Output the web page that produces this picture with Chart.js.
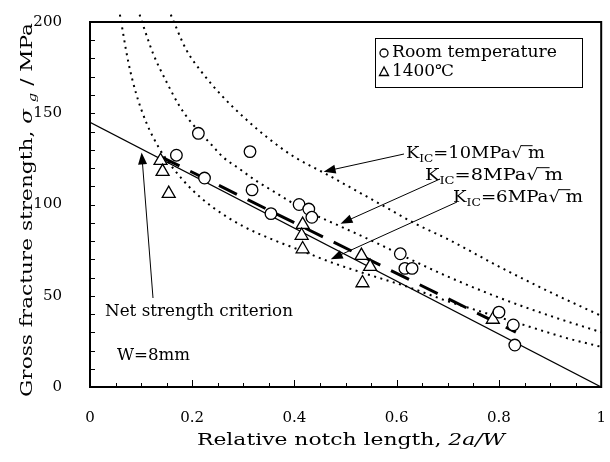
<!DOCTYPE html>
<html>
<head>
<meta charset="utf-8">
<script src="https://cdn.jsdelivr.net/npm/chart.js@4.4.0/dist/chart.umd.min.js"></script>
<style>
  html, body { margin: 0; padding: 0; background: #fff; }
</style>
</head>
<body>
<canvas id="myChart" width="610" height="462"></canvas>
<script>
// x = relative notch length 2a/W, y = gross fracture strength (MPa)
const roomX = [0.169, 0.212, 0.224, 0.313, 0.317, 0.354, 0.409, 0.428, 0.434, 0.607, 0.616, 0.630, 0.800, 0.828, 0.831];
const roomY = [127, 139, 114.5, 129, 108, 95, 100, 97.5, 93, 73, 65, 65, 41, 34, 23];

const hotX = [0.138, 0.142, 0.154, 0.416, 0.414, 0.416, 0.531, 0.548, 0.533, 0.788];
const hotY = [124, 118, 106, 89, 83, 75.6, 72, 66, 57, 37];

// net strength criterion
const netX = [0, 1];
const netY = [145, 0];

// 1400C trend (thick dashed)
const fitX = [0.14, 0.833];
const fitY = [126, 30];

// K_IC curves
const k10X = [0.158, 0.188, 0.22, 0.26, 0.30, 0.35, 0.40, 0.46, 0.55, 0.64, 0.70, 0.80, 0.90, 1.00];
const k10Y = [204, 185, 172, 159, 148, 136, 126, 117, 103, 89, 81, 66, 52, 39];
const k8X = [0.097, 0.123, 0.15, 0.175, 0.195, 0.24, 0.26, 0.29, 0.325, 0.36, 0.42, 0.49, 0.56, 0.63, 0.70, 0.80, 0.90, 1.00];
const k8Y = [204, 183, 167, 154, 146, 132, 126, 120, 113, 107, 97, 88, 79, 69.5, 60.5, 49, 39, 30];
const k6X = [0.0585, 0.075, 0.09, 0.11, 0.135, 0.165, 0.20, 0.24, 0.30, 0.36, 0.42, 0.47, 0.54, 0.62, 0.70, 0.78, 0.86, 0.93, 1.00];
const k6Y = [204, 178, 161, 145, 131, 119, 108, 98.5, 88, 80.5, 74, 68.5, 62, 55, 47, 40, 33, 27, 22];

const xTicks = [0, 0.2, 0.4, 0.6, 0.8, 1];
const yTicks = [0, 50, 100, 150, 200];

const SERIF = '"DejaVu Serif", serif';

function toPoints(xs, ys) {
  return xs.map((x, i) => ({ x: x, y: ys[i] }));
}

function font(size, italic) {
  return (italic ? 'italic ' : '') + size + 'px ' + SERIF;
}

// draw a line of mixed text runs, stretched horizontally to a given width
function drawRich(ctx, runs, x, y, size, width, align) {
  ctx.save();
  let natural = 0;
  runs.forEach(r => {
    ctx.font = font(r.sub ? size * 0.68 : size, r.it);
    r.w = ctx.measureText(r.t).width;
    natural += r.w;
  });
  const sx = width ? width / natural : 1;
  const start = align === 'center' ? x - natural * sx / 2 : x;
  ctx.translate(start, y);
  ctx.scale(sx, 1);
  ctx.textBaseline = 'middle';
  ctx.textAlign = 'left';
  ctx.fillStyle = '#000';
  ctx.strokeStyle = '#000';
  let cx = 0;
  runs.forEach(r => {
    ctx.font = font(r.sub ? size * 0.68 : size, r.it);
    ctx.fillText(r.t, cx, r.sub ? size * 0.3 : 0);
    if (r.bar) {
      ctx.lineWidth = 1;
      ctx.beginPath();
      ctx.moveTo(cx - 1, -size * 0.52);
      ctx.lineTo(cx + r.w * 0.45, -size * 0.52);
      ctx.stroke();
    }
    cx += r.w;
  });
  ctx.restore();
}

function drawArrow(ctx, x1, y1, x2, y2) {
  const ang = Math.atan2(y2 - y1, x2 - x1);
  const len = 12, half = 4.5;
  ctx.save();
  ctx.strokeStyle = '#000';
  ctx.fillStyle = '#000';
  ctx.lineWidth = 1;
  ctx.beginPath();
  ctx.moveTo(x1, y1);
  ctx.lineTo(x2 - Math.cos(ang) * len * 0.8, y2 - Math.sin(ang) * len * 0.8);
  ctx.stroke();
  ctx.beginPath();
  ctx.moveTo(x2, y2);
  ctx.lineTo(x2 - Math.cos(ang) * len - Math.sin(ang) * half, y2 - Math.sin(ang) * len + Math.cos(ang) * half);
  ctx.lineTo(x2 - Math.cos(ang) * len + Math.sin(ang) * half, y2 - Math.sin(ang) * len - Math.cos(ang) * half);
  ctx.closePath();
  ctx.fill();
  ctx.restore();
}

function kLabel(n) {
  return [
    { t: 'K' }, { t: 'IC', sub: true }, { t: '=' + n + 'MPa' }, { t: '√' }, { t: ' m', bar: true }
  ];
}

// frame, inward ticks, legend box, notes and axis titles
const decorations = {
  id: 'decorations',
  afterDraw(chart) {
    const ctx = chart.ctx;
    const a = chart.chartArea;
    const xs = chart.scales.x;
    const ys = chart.scales.y;

    ctx.save();
    ctx.strokeStyle = '#000';
    ctx.lineWidth = 1;
    ctx.beginPath();
    for (let v = 10; v < 200; v += 10) {
      const py = Math.round(ys.getPixelForValue(v)) + 0.5;
      ctx.moveTo(a.left, py);
      ctx.lineTo(a.left + 5, py);
    }
    for (let i = 1; i < 20; i++) {
      const px = Math.round(xs.getPixelForValue(i * 0.05)) + 0.5;
      ctx.moveTo(px, a.bottom);
      ctx.lineTo(px, a.bottom - (i % 4 === 0 ? 7 : 4));
    }
    ctx.stroke();

    ctx.lineWidth = 2;
    ctx.strokeRect(a.left, a.top, a.right - a.left, a.bottom - a.top);

    // legend
    ctx.lineWidth = 1;
    ctx.strokeRect(375.5, 38.5, 207, 49);
    ctx.lineWidth = 1.3;
    ctx.beginPath();
    ctx.arc(384, 53, 4, 0, Math.PI * 2);
    ctx.stroke();
    ctx.beginPath();
    ctx.moveTo(384, 67);
    ctx.lineTo(379.5, 75.5);
    ctx.lineTo(388.5, 75.5);
    ctx.closePath();
    ctx.stroke();
    ctx.restore();

    drawRich(ctx, [{ t: 'Room temperature' }], 392, 53, 16, 165);
    drawRich(ctx, [{ t: '1400℃' }], 392, 72, 16, 62);

    // K_IC notes and arrows
    drawRich(ctx, kLabel(10), 406, 154, 16, 139);
    drawRich(ctx, kLabel(8), 425, 176, 16, 138);
    drawRich(ctx, kLabel(6), 453, 198, 16, 130);
    drawArrow(ctx, 404, 154, xs.getPixelForValue(0.457), ys.getPixelForValue(118));
    drawArrow(ctx, 440, 179, xs.getPixelForValue(0.49), ys.getPixelForValue(89.5));
    drawArrow(ctx, 457, 202, xs.getPixelForValue(0.471), ys.getPixelForValue(70));
    drawArrow(ctx, 153, 298, xs.getPixelForValue(0.101), ys.getPixelForValue(128.5));

    drawRich(ctx, [{ t: 'Net strength criterion' }], 105, 312, 16, 188);
    drawRich(ctx, [{ t: 'W=8mm' }], 117, 356, 16, 73);

    // axis titles
    drawRich(ctx, [{ t: 'Relative notch length, ' }, { t: '2a/W', it: true }], 351, 441, 16, 308, 'center');
    ctx.save();
    ctx.translate(28, 210);
    ctx.rotate(-Math.PI / 2);
    drawRich(ctx, [
      { t: 'Gross fracture strength, ' }, { t: 'σ', it: true }, { t: ' ' },
      { t: 'g', it: true, sub: true }, { t: ' / MPa' }
    ], 0, 0, 16, 374, 'center');
    ctx.restore();
  }
};

function curve(xs, ys) {
  return {
    data: toPoints(xs, ys),
    showLine: true,
    borderColor: '#000',
    borderWidth: 2,
    borderDash: [2, 4.5],
    pointRadius: 0,
    cubicInterpolationMode: 'monotone',
    clip: { left: 0, top: 10, right: 0, bottom: 0 }
  };
}

const chartData = {
  datasets: [
    {
      label: 'Room temperature',
      data: toPoints(roomX, roomY),
      pointStyle: 'circle',
      pointRadius: 5.8,
      pointBackgroundColor: '#fff',
      pointBorderColor: '#000',
      pointBorderWidth: 1.3
    },
    {
      label: '1400℃',
      data: toPoints(hotX, hotY),
      pointStyle: 'triangle',
      pointRadius: 7.5,
      pointBackgroundColor: '#fff',
      pointBorderColor: '#000',
      pointBorderWidth: 1.3
    },
    {
      data: toPoints(fitX, fitY),
      showLine: true,
      borderColor: '#000',
      borderWidth: 3,
      borderDash: [20, 12],
      pointRadius: 0
    },
    {
      data: toPoints(netX, netY),
      showLine: true,
      borderColor: '#000',
      borderWidth: 1.3,
      pointRadius: 0
    },
    curve(k10X, k10Y),
    curve(k8X, k8Y),
    curve(k6X, k6Y)
  ]
};

const config = {
  type: 'scatter',
  data: chartData,
  options: {
    responsive: false,
    animation: false,
    devicePixelRatio: 1,
    layout: { padding: { top: 22, right: 3, left: 0, bottom: 0 } },
    plugins: {
      legend: { display: false },
      tooltip: { enabled: false }
    },
    scales: {
      x: {
        type: 'linear',
        min: 0,
        max: 1,
        afterBuildTicks: s => { s.ticks = xTicks.map(v => ({ value: v })); },
        afterFit: s => { s.height = 75; s.paddingLeft = 0; s.paddingRight = 0; },
        grid: { display: false },
        border: { display: false },
        ticks: {
          color: '#000',
          font: { family: SERIF, size: 15 },
          padding: 14,
          maxRotation: 0,
          callback: v => String(+v.toFixed(1))
        }
      },
      y: {
        type: 'linear',
        min: 0,
        max: 200,
        afterBuildTicks: s => { s.ticks = yTicks.map(v => ({ value: v })); },
        afterFit: s => { s.width = 90; s.paddingTop = 0; s.paddingBottom = 0; },
        grid: { display: false },
        border: { display: false },
        ticks: {
          color: '#000',
          font: { family: SERIF, size: 15 },
          padding: 20
        }
      }
    }
  },
  plugins: [decorations]
};

const myChart = new Chart(document.getElementById('myChart'), config);
</script>
</body>
</html>
